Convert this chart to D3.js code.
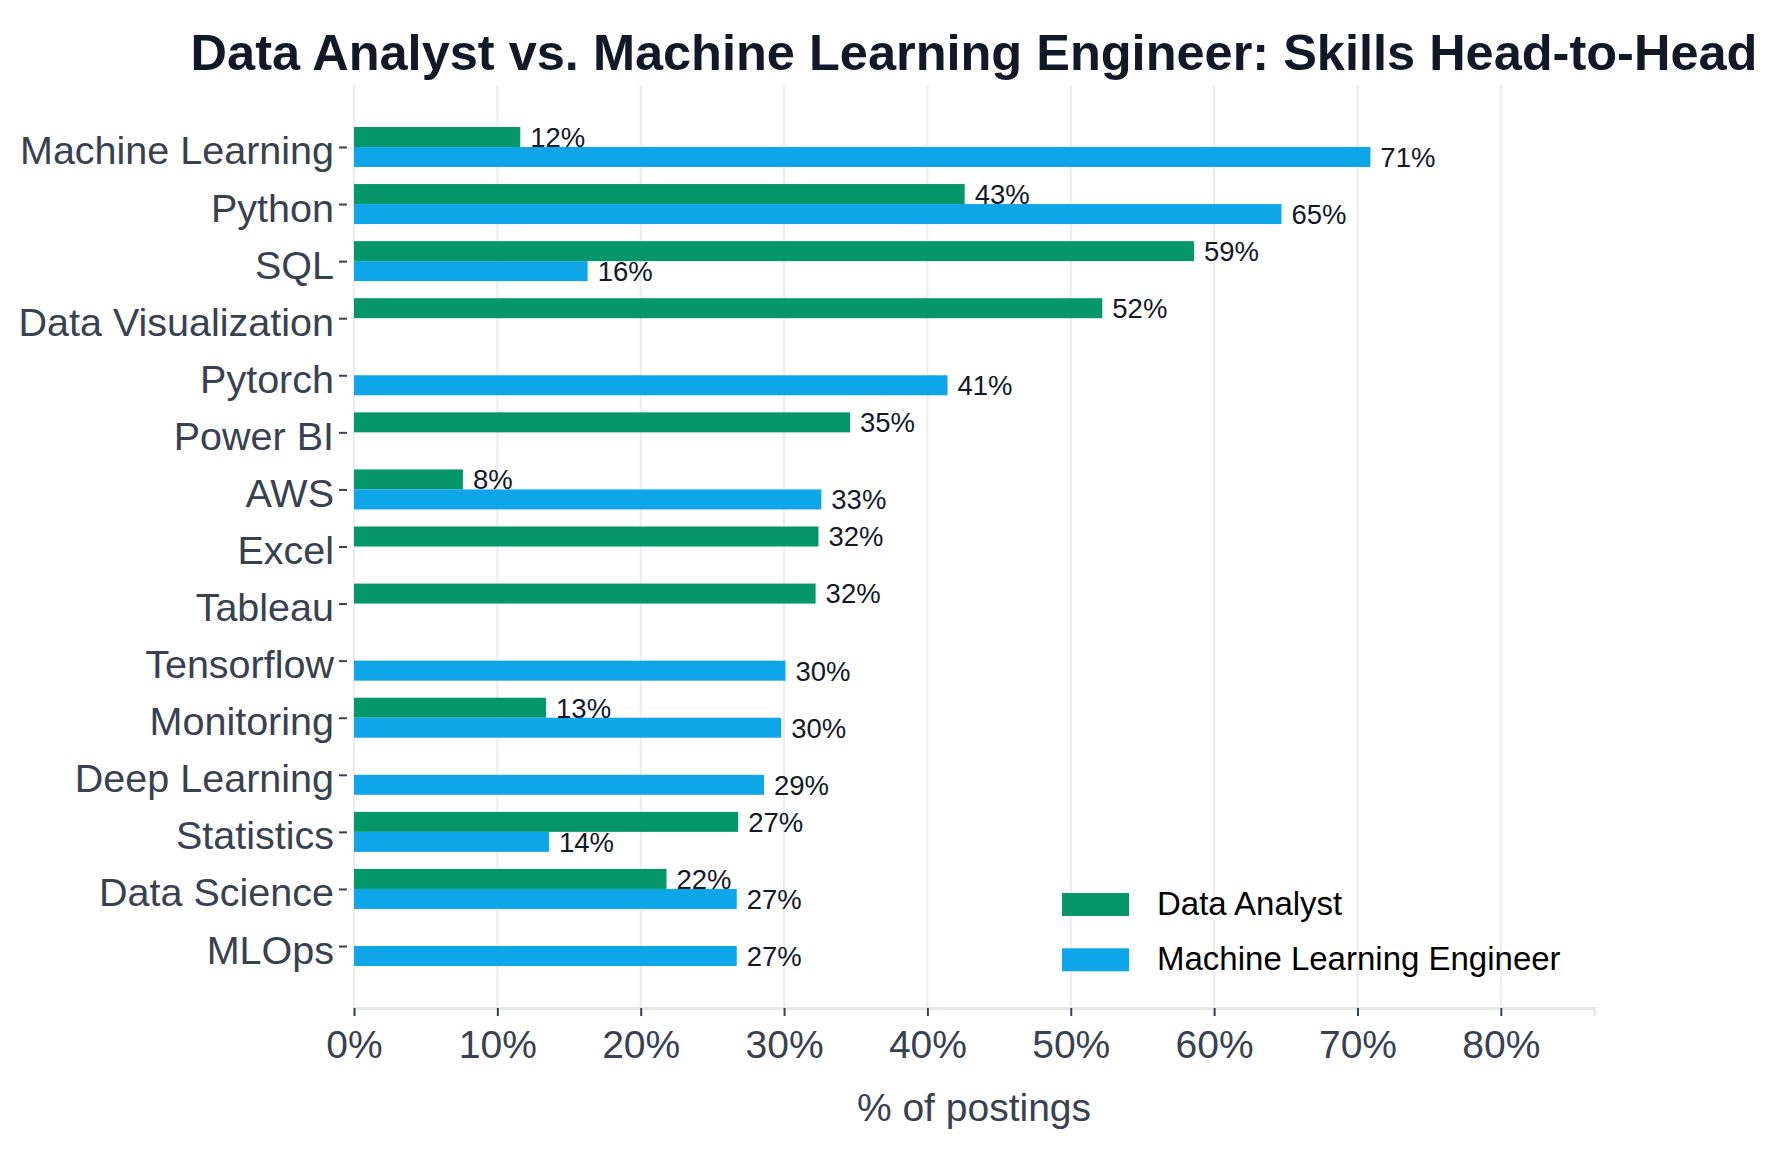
<!DOCTYPE html>
<html>
<head>
<meta charset="utf-8">
<script src="https://cdn.jsdelivr.net/npm/d3@7"></script>
<style>
    body { margin: 0; background: #fff; }
    #chart-area { width: 1776px; height: 1150px; }
    text { font-family: "Liberation Sans", Arial, sans-serif; }
</style>
</head>
<body>
<div id="chart-area"></div>
<script>
// skills, top to bottom
const skills = [
    "Machine Learning", "Python", "SQL", "Data Visualization", "Pytorch",
    "Power BI", "AWS", "Excel", "Tableau", "Tensorflow",
    "Monitoring", "Deep Learning", "Statistics", "Data Science", "MLOps",
];
// % of postings, 0 = skill not in that role's top list
const analystPct = [11.6, 42.6, 58.6, 52.2, 0, 34.6, 7.6, 32.4, 32.2, 0, 13.4, 0, 26.8, 21.8, 0];
const mlePct = [70.9, 64.7, 16.3, 0, 41.4, 0, 32.6, 0, 0, 30.1, 29.8, 28.6, 13.6, 26.7, 26.7];
const roles = ["Data Analyst", "Machine Learning Engineer"];
const xTicks = [0, 10, 20, 30, 40, 50, 60, 70, 80];

class SkillsVis {
    constructor(_parentElement) {
        this.parentElement = _parentElement;
        this.initVis();
    }

    initVis() {
        let vis = this;

        vis.margin = { top: 85, right: 182, bottom: 142, left: 354 };
        vis.width = 1776 - vis.margin.left - vis.margin.right;
        vis.height = 1150 - vis.margin.top - vis.margin.bottom;

        vis.svg = d3
            .select(`#${vis.parentElement}`)
            .append("svg")
            .attr("width", 1776)
            .attr("height", 1150)
            .append("g")
            .attr("transform", `translate(${vis.margin.left},${vis.margin.top})`);

        vis.x = d3.scaleLinear().domain([0, 86.5]).range([0, vis.width]);
        vis.y = d3.scalePoint().domain(skills).range([0, vis.height]).padding(1.086);

        vis.colorScale = d3.scaleOrdinal().domain(roles).range(["#059669", "#0ea5e9"]);

        // gridlines
        vis.svg
            .append("g")
            .attr("class", "grid")
            .selectAll("line")
            .data(xTicks)
            .join("line")
            .attr("x1", (d) => vis.x(d))
            .attr("x2", (d) => vis.x(d))
            .attr("y1", 0)
            .attr("y2", vis.height)
            .attr("stroke", "#ececf0")
            .attr("stroke-width", 2);

        // x-axis
        vis.xAxis = d3
            .axisBottom(vis.x)
            .tickValues(xTicks)
            .tickFormat((d) => d + "%")
            .tickSize(8)
            .tickPadding(14);

        vis.xAxisGroup = vis.svg
            .append("g")
            .attr("class", "axis x-axis")
            .attr("transform", `translate(0,${vis.height})`)
            .call(vis.xAxis);
        vis.xAxisGroup.select(".domain").attr("stroke", "#e5e7eb").attr("stroke-width", 3);
        vis.xAxisGroup.selectAll(".tick line").attr("stroke", "#374151").attr("stroke-width", 2);
        vis.xAxisGroup
            .selectAll(".tick text")
            .attr("font-size", "39px")
            .attr("fill", "#374151");

        // y-axis
        vis.yAxis = d3.axisLeft(vis.y).tickSize(8).tickPadding(5);
        vis.yAxisGroup = vis.svg
            .append("g")
            .attr("class", "axis y-axis")
            .attr("transform", "translate(-7,0)")
            .call(vis.yAxis);
        vis.yAxisGroup.select(".domain").remove();
        vis.yAxisGroup.selectAll(".tick line").attr("stroke", "#374151").attr("stroke-width", 2);
        vis.yAxisGroup
            .selectAll(".tick text")
            .attr("font-size", "39.5px")
            .attr("dy", "0.43em")
            .attr("fill", "#374151");

        // x-axis label
        vis.svg
            .append("text")
            .attr("x", vis.width / 2)
            .attr("y", vis.height + 113)
            .attr("font-size", "39px")
            .attr("fill", "#374151")
            .attr("text-anchor", "middle")
            .text("% of postings");

        // title
        vis.svg
            .append("text")
            .attr("x", vis.width / 2)
            .attr("y", -15)
            .attr("font-size", "50.5px")
            .attr("font-weight", "bold")
            .attr("fill", "#111827")
            .attr("text-anchor", "middle")
            .text("Data Analyst vs. Machine Learning Engineer: Skills Head-to-Head");

        vis.bars = vis.svg.append("g").attr("class", "bars");
        vis.labels = vis.svg.append("g").attr("class", "labels");

        vis.wrangleData();
    }

    wrangleData() {
        let vis = this;

        vis.displayData = [];
        skills.forEach((s, i) => {
            vis.displayData.push({ skill: s, role: roles[0], value: analystPct[i], slot: 0 });
            vis.displayData.push({ skill: s, role: roles[1], value: mlePct[i], slot: 1 });
        });
        // drop missing bars
        vis.displayData = vis.displayData.filter((d) => d.value > 0);

        vis.updateVis();
    }

    updateVis() {
        let vis = this;
        let barH = 20;

        vis.bars
            .selectAll("rect")
            .data(vis.displayData)
            .join("rect")
            .attr("x", vis.x(0))
            .attr("y", (d) => vis.y(d.skill) - barH + d.slot * barH)
            .attr("width", (d) => vis.x(d.value) - vis.x(0))
            .attr("height", barH)
            .attr("fill", (d) => vis.colorScale(d.role));

        vis.labels
            .selectAll("text")
            .data(vis.displayData)
            .join("text")
            .attr("x", (d) => vis.x(d.value) + 10)
            .attr("y", (d) => vis.y(d.skill) - barH / 2 + d.slot * barH)
            .attr("dy", "0.36em")
            .attr("font-size", "27.5px")
            .attr("fill", "#111827")
            .text((d) => d3.format(".0f")(d.value) + "%");

        // legend
        let legend = vis.svg
            .append("g")
            .attr("class", "legend")
            .attr("transform", `translate(${1062 - vis.margin.left},${893 - vis.margin.top})`);

        let items = legend
            .selectAll("g")
            .data(roles)
            .join("g")
            .attr("transform", (d, i) => `translate(0,${i * 55.3})`);

        items
            .append("rect")
            .attr("width", 67)
            .attr("height", 23)
            .attr("fill", (d) => vis.colorScale(d));

        items
            .append("text")
            .attr("x", 95)
            .attr("y", 22)
            .attr("font-size", "33px")
            .attr("fill", "#000")
            .text((d) => d);
    }
}

new SkillsVis("chart-area");
</script>
</body>
</html>
